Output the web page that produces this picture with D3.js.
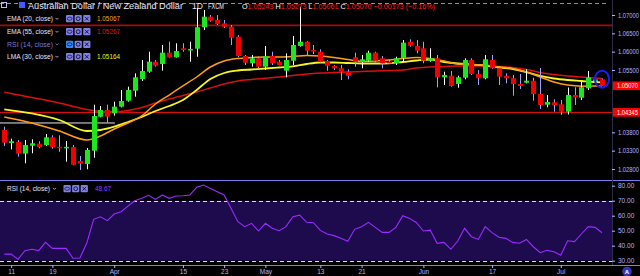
<!DOCTYPE html>
<html>
<head>
<meta charset="utf-8">
<script src="https://cdn.jsdelivr.net/npm/d3@7"></script>
<style>
  html, body { margin: 0; padding: 0; background: #000; }
  svg { display: block; font-family: "Liberation Sans", Arial, sans-serif; }
</style>
</head>
<body>
<div id="chart"></div>
<script>
// Daily candles, AUD/NZD (FXCM)
var opens = [1.03864, 1.03509, 1.03537, 1.03218, 1.03436, 1.03490, 1.03455, 1.03665, 1.03405, 1.03400,
  1.03400, 1.03019, 1.02937, 1.03299, 1.04227, 1.04409, 1.04319, 1.04500, 1.04663, 1.04936,
  1.05255, 1.05454, 1.05726, 1.05664, 1.05972, 1.05846, 1.06092, 1.06045, 1.06081, 1.06665,
  1.06954, 1.06864, 1.06774, 1.06681, 1.06408, 1.05882, 1.05683, 1.05819, 1.05590, 1.05882,
  1.05726, 1.05481, 1.05754, 1.06155, 1.06272, 1.06045, 1.05999, 1.05745, 1.05609, 1.05546,
  1.05454, 1.05846, 1.05718, 1.05754, 1.05972, 1.05819, 1.05726, 1.05683, 1.05819, 1.06272,
  1.06155, 1.06092, 1.05754, 1.05819, 1.05301, 1.05345, 1.05118, 1.05290, 1.05773, 1.05391,
  1.05274, 1.05773, 1.05546, 1.05337, 1.05274, 1.05118, 1.05154, 1.05208, 1.04846, 1.04554,
  1.04619, 1.04565, 1.04363, 1.04818, 1.04745, 1.05001, 1.05210, 1.05243];
var highs = [1.03954, 1.03627, 1.03591, 1.03591, 1.03610, 1.03556, 1.03755, 1.03720, 1.03720, 1.03564,
  1.03455, 1.03155, 1.03373, 1.04554, 1.04518, 1.04554, 1.04636, 1.04955, 1.05045, 1.05410,
  1.05773, 1.05999, 1.05773, 1.06182, 1.06272, 1.06228, 1.06228, 1.06272, 1.07191, 1.07136,
  1.07000, 1.07000, 1.06864, 1.06727, 1.06455, 1.05910, 1.05910, 1.05863, 1.06155, 1.05999,
  1.05773, 1.05955, 1.06427, 1.07226, 1.06285, 1.06182, 1.06065, 1.05773, 1.05636, 1.05636,
  1.05519, 1.05972, 1.05910, 1.06026, 1.05999, 1.05882, 1.05773, 1.05863, 1.06318, 1.06337,
  1.06318, 1.06272, 1.06092, 1.05910, 1.05454, 1.05473, 1.05345, 1.05819, 1.05819, 1.05500,
  1.05910, 1.05910, 1.05574, 1.05410, 1.05364, 1.05391, 1.05519, 1.05290, 1.05555, 1.04818,
  1.04701, 1.04682, 1.05023, 1.05028, 1.05173, 1.05473, 1.05300, 1.05273];
var lows = [1.03428, 1.03338, 1.03136, 1.02956, 1.03229, 1.03365, 1.03428, 1.03354, 1.03272, 1.03000,
  1.02905, 1.02773, 1.02792, 1.03108, 1.04210, 1.04063, 1.04254, 1.04483, 1.04636, 1.04772,
  1.05200, 1.05426, 1.05590, 1.05481, 1.05840, 1.05840, 1.05999, 1.05726, 1.05863, 1.06591,
  1.06817, 1.06727, 1.06645, 1.06182, 1.05846, 1.05636, 1.05590, 1.05546, 1.05500, 1.05636,
  1.05630, 1.05301, 1.05636, 1.06136, 1.05910, 1.05936, 1.05699, 1.05481, 1.05500, 1.05227,
  1.05246, 1.05590, 1.05546, 1.05726, 1.05710, 1.05546, 1.05675, 1.05636, 1.05726, 1.06136,
  1.05955, 1.05683, 1.05726, 1.05028, 1.05091, 1.05045, 1.05017, 1.05246, 1.05364, 1.05091,
  1.05246, 1.05530, 1.05091, 1.05137, 1.04799, 1.04982, 1.05137, 1.04663, 1.04436, 1.04483,
  1.04363, 1.04273, 1.04287, 1.04546, 1.04682, 1.04955, 1.05180, 1.05061];
var closes = [1.03518, 1.03556, 1.03218, 1.03455, 1.03501, 1.03400, 1.03665, 1.03400, 1.03400, 1.03405,
  1.02918, 1.02945, 1.03318, 1.04246, 1.04409, 1.04227, 1.04500, 1.04655, 1.04955, 1.05301,
  1.05473, 1.05726, 1.05617, 1.05972, 1.05846, 1.06018, 1.06045, 1.06073, 1.06665, 1.06954,
  1.06845, 1.06754, 1.06681, 1.06381, 1.05882, 1.05699, 1.05819, 1.05590, 1.05882, 1.05683,
  1.05636, 1.05773, 1.06182, 1.06272, 1.06026, 1.06018, 1.05726, 1.05617, 1.05546, 1.05454,
  1.05337, 1.05726, 1.05792, 1.05972, 1.05754, 1.05683, 1.05683, 1.05819, 1.06245, 1.06163,
  1.06026, 1.05754, 1.05819, 1.05301, 1.05364, 1.05064, 1.05301, 1.05773, 1.05391, 1.05274,
  1.05792, 1.05546, 1.05318, 1.05274, 1.05118, 1.05064, 1.05208, 1.04846, 1.04546, 1.04627,
  1.04546, 1.04363, 1.04818, 1.04750, 1.05028, 1.05301, 1.05243, 1.05070];

// Moving averages, sampled at these candle indices
var maIdx = [0, 4, 8, 12, 14, 16, 18, 20, 22, 24, 26, 28, 30, 32, 34, 36, 38, 40, 42, 44, 46,
  48, 50, 52, 54, 56, 58, 60, 62, 64, 66, 68, 70, 72, 74, 76, 78, 80, 82, 84, 86, 87];
var ema20 = [1.04218, 1.04055, 1.03837, 1.03591, 1.03700, 1.03891, 1.04055, 1.04246, 1.04573, 1.04818,
  1.05064, 1.05309, 1.05582, 1.05745, 1.05814, 1.05841, 1.05855, 1.05855, 1.05868, 1.05896, 1.05882,
  1.05841, 1.05786, 1.05732, 1.05745, 1.05773, 1.05814, 1.05841, 1.05814, 1.05745, 1.05664, 1.05650,
  1.05636, 1.05582, 1.05541, 1.05445, 1.05309, 1.05173, 1.05091, 1.05060, 1.05062, 1.05067];
var ema55 = [1.04892, 1.04750, 1.04600, 1.04423, 1.04368, 1.04363, 1.04396, 1.04477, 1.04600, 1.04709,
  1.04805, 1.04900, 1.05009, 1.05118, 1.05200, 1.05241, 1.05274, 1.05309, 1.05350, 1.05391, 1.05418,
  1.05432, 1.05445, 1.05459, 1.05473, 1.05486, 1.05500, 1.05555, 1.05582, 1.05596, 1.05609, 1.05609,
  1.05609, 1.05596, 1.05568, 1.05514, 1.05432, 1.05377, 1.05337, 1.05309, 1.05282, 1.05267];
var lma30 = [1.04428, 1.04314, 1.04136, 1.03837, 1.03864, 1.03954, 1.04082, 1.04218, 1.04382, 1.04518,
  1.04682, 1.04955, 1.05255, 1.05418, 1.05486, 1.05514, 1.05541, 1.05568, 1.05596, 1.05664, 1.05705,
  1.05705, 1.05691, 1.05677, 1.05677, 1.05683, 1.05718, 1.05759, 1.05786, 1.05718, 1.05677, 1.05650,
  1.05623, 1.05568, 1.05527, 1.05445, 1.05337, 1.05268, 1.05227, 1.05200, 1.05173, 1.05164];

// RSI (14, close), one value per candle
var rsi = [34.4, 34.4, 30.9, 36.7, 37.6, 36.7, 42.2, 38.2, 38.2, 38.2,
  31.6, 31.8, 41.6, 57.6, 59.3, 56.7, 61.1, 62.7, 66.4, 70.0,
  71.6, 73.6, 70.9, 73.8, 71.6, 73.1, 73.3, 73.8, 78.9, 80.4,
  78.2, 76.0, 73.8, 64.9, 56.0, 52.7, 54.9, 49.8, 54.9, 51.6,
  50.0, 52.7, 59.3, 60.4, 55.6, 55.3, 50.2, 47.8, 46.7, 44.9,
  42.9, 50.9, 52.7, 55.6, 52.2, 48.9, 48.9, 52.2, 60.0, 58.2,
  55.3, 49.8, 50.4, 41.6, 42.2, 37.6, 43.1, 51.6, 46.0, 44.2,
  52.7, 48.7, 45.6, 44.9, 42.2, 41.6, 44.2, 39.3, 35.3, 36.9,
  36.0, 33.6, 43.3, 42.7, 47.8, 52.7, 52.2, 48.67];

// Axes
var priceTicks = [1.07, 1.065, 1.06, 1.055, 1.038, 1.033, 1.028];
var rsiTicks = [80, 70, 60, 50, 40, 30];
var dateTickIdx = [1, 7, 16, 26, 32, 38, 46, 52, 61, 71, 81];
var dateLabels = ["11", "19", "Apr", "15", "23", "May", "13", "21", "Jun", "17", "Jul"];

// Drawn levels
var lastPrice = 1.05070;
var supportLevel = 1.04345;
var resistanceLevel = 1.06719;
var alertLevel = 1.07319;
var rangeLevel = 1.04055;

// Legend
var legendNames = ["EMA (20, close)", "EMA (55, close)", "RSI (14, close)", "LMA (30, close)"];
var legendValues = ["1.05067", "1.05267", "", "1.05164"];
var legendColors = ["#ffa21e", "#e01515", "", "#f2f21a"];

const width = 640, height = 276;
const plotRight = 612;
const axisColor = "#b4b4ff";
const sepColor = "#7c7cf0";

var svg = d3.select("#chart").append("svg")
  .attr("width", width)
  .attr("height", height);

svg.append("rect").attr("width", width).attr("height", height).attr("fill", "#000");

var x = d3.scaleLinear().domain([0, 87]).range([4.3, 602]);
var y = d3.scaleLinear().domain([1.025, 1.07409]).range([180, 0]);
var yr = d3.scaleLinear().domain([30, 70]).range([260.7, 200.7]);

svg.append("defs").append("clipPath").attr("id", "pclip")
  .append("rect").attr("x", 0).attr("y", 0).attr("width", plotRight).attr("height", 180);

var pg = svg.append("g").attr("clip-path", "url(#pclip)");

// alert line (dashed blue)
pg.append("line")
  .attr("x1", 0).attr("x2", 609)
  .attr("y1", Math.round(y(alertLevel)) + 0.5).attr("y2", Math.round(y(alertLevel)) + 0.5)
  .attr("stroke", "#2ab0f5").attr("stroke-width", 1.2).attr("stroke-dasharray", "4,3");

// horizontal levels
pg.append("line")
  .attr("x1", 0).attr("x2", plotRight)
  .attr("y1", y(resistanceLevel)).attr("y2", y(resistanceLevel))
  .attr("stroke", "#a30d0d").attr("stroke-width", 1.8);
pg.append("line")
  .attr("x1", 0).attr("x2", plotRight)
  .attr("y1", y(supportLevel)).attr("y2", y(supportLevel))
  .attr("stroke", "#ff1010").attr("stroke-width", 1);
pg.append("line")
  .attr("x1", 0).attr("x2", x(16.1))
  .attr("y1", y(rangeLevel)).attr("y2", y(rangeLevel))
  .attr("stroke", "#e8e8f0").attr("stroke-width", 1);

// moving averages
var maLine = d3.line()
  .x(function (d) { return x(d.i); })
  .y(function (d) { return y(d.v); })
  .curve(d3.curveMonotoneX);

function maData(vals) {
  return maIdx.map(function (idx, k) { return {i: idx, v: vals[k]}; });
}

pg.append("path").datum(maData(ema55)).attr("d", maLine)
  .attr("fill", "none").attr("stroke", "#d81010").attr("stroke-width", 1.5);
pg.append("path").datum(maData(lma30)).attr("d", maLine)
  .attr("fill", "none").attr("stroke", "#f5f528").attr("stroke-width", 1.8);
pg.append("path").datum(maData(ema20)).attr("d", maLine)
  .attr("fill", "none").attr("stroke", "#ff9c1a").attr("stroke-width", 1.5);

// candles
var candles = d3.range(opens.length).map(function (i) {
  return {i: i, o: opens[i], h: highs[i], l: lows[i], c: closes[i]};
});

pg.selectAll(".wick")
  .data(candles)
  .enter().append("line")
  .attr("class", "wick")
  .attr("x1", function (d) { return Math.round(x(d.i)) + 0.5; })
  .attr("x2", function (d) { return Math.round(x(d.i)) + 0.5; })
  .attr("y1", function (d) { return y(d.h); })
  .attr("y2", function (d) { return y(d.l); })
  .attr("stroke", function (d) { return d.c >= d.o ? "#ffffff" : "#a0a0ff"; })
  .attr("stroke-width", 1);

pg.selectAll(".body")
  .data(candles)
  .enter().append("rect")
  .attr("class", "body")
  .attr("x", function (d) { return Math.round(x(d.i)) - 2; })
  .attr("width", 5)
  .attr("y", function (d) { return y(Math.max(d.o, d.c)); })
  .attr("height", function (d) { return Math.max(1.5, Math.abs(y(d.o) - y(d.c))); })
  .attr("fill", function (d) { return d.c >= d.o ? "#1ee61e" : "#f20000"; });

// circle annotation on the last bar
pg.append("ellipse")
  .attr("cx", x(87)).attr("cy", y(1.0525))
  .attr("rx", 7).attr("ry", 8.5)
  .attr("fill", "none").attr("stroke", "#1c1cff").attr("stroke-width", 2);

// RSI pane
svg.append("rect")
  .attr("x", 0).attr("width", plotRight)
  .attr("y", yr(70)).attr("height", yr(30) - yr(70))
  .attr("fill", "#1d0b4e");
[70, 30].forEach(function (v) {
  svg.append("line")
    .attr("x1", 0).attr("x2", plotRight)
    .attr("y1", Math.round(yr(v)) + 0.5).attr("y2", Math.round(yr(v)) + 0.5)
    .attr("stroke", "#d8d8ff").attr("stroke-width", 1).attr("stroke-dasharray", "4,3");
});
svg.append("path")
  .datum(rsi)
  .attr("d", d3.line().x(function (d, i) { return x(i); }).y(function (d) { return yr(d); }))
  .attr("fill", "none").attr("stroke", "#9a2cff").attr("stroke-width", 1.1);

// separators / frame
svg.append("line").attr("x1", 0).attr("x2", width).attr("y1", 180.5).attr("y2", 180.5)
  .attr("stroke", sepColor).attr("stroke-width", 1);
svg.append("line").attr("x1", 0).attr("x2", width).attr("y1", 265.5).attr("y2", 265.5)
  .attr("stroke", sepColor).attr("stroke-width", 1);
svg.append("line").attr("x1", plotRight + 0.5).attr("x2", plotRight + 0.5).attr("y1", 0).attr("y2", 265)
  .attr("stroke", "#2c2c44").attr("stroke-width", 1);

// price axis
var pAxis = svg.append("g")
  .attr("transform", "translate(" + plotRight + ",0)")
  .call(d3.axisRight(y).tickValues(priceTicks).tickFormat(d3.format(".5f")).tickSize(3).tickPadding(3));
pAxis.select(".domain").remove();
pAxis.selectAll("line").attr("stroke", axisColor);
pAxis.selectAll("text").attr("fill", axisColor).attr("font-size", 6.5).attr("textLength", 21)
  .attr("lengthAdjust", "spacingAndGlyphs").attr("font-family", "Liberation Sans, Arial, sans-serif");

// RSI axis
var rAxis = svg.append("g")
  .attr("transform", "translate(" + plotRight + ",0)")
  .call(d3.axisRight(yr).tickValues(rsiTicks).tickFormat(d3.format(".2f")).tickSize(3).tickPadding(3));
rAxis.select(".domain").remove();
rAxis.selectAll("line").attr("stroke", axisColor);
rAxis.selectAll("text").attr("fill", axisColor).attr("font-size", 6.5)
  .attr("font-family", "Liberation Sans, Arial, sans-serif");

// date axis
var dAxis = svg.append("g")
  .attr("transform", "translate(0,265)")
  .call(d3.axisBottom(x).tickValues(dateTickIdx)
    .tickFormat(function (d, i) { return dateLabels[i]; })
    .tickSize(3).tickSizeOuter(0).tickPadding(1));
dAxis.select(".domain").remove();
dAxis.selectAll("line").attr("stroke", axisColor);
dAxis.selectAll("text").attr("fill", axisColor).attr("font-size", 6.5)
  .attr("font-family", "Liberation Sans, Arial, sans-serif");

// price tags on the axis
function priceTag(level, label) {
  var cy = y(level);
  svg.append("rect").attr("x", plotRight + 1).attr("y", cy - 4.3).attr("width", width - plotRight - 1).attr("height", 8.6)
    .attr("fill", "#ff0000");
  svg.append("text").attr("x", plotRight + 5).attr("y", cy + 2.4)
    .attr("fill", "#ffffff").attr("font-size", 6.5).attr("textLength", 21).attr("lengthAdjust", "spacingAndGlyphs")
    .text(label);
}
priceTag(lastPrice, d3.format(".5f")(lastPrice));
priceTag(supportLevel, d3.format(".5f")(supportLevel));

// auto-scale button
svg.append("circle").attr("cx", 627).attr("cy", 271.5).attr("r", 4.8).attr("fill", "#3434b4");
svg.append("text").attr("x", 627).attr("y", 273.8).attr("text-anchor", "middle")
  .attr("fill", "#ffffff").attr("font-size", 6).attr("font-weight", "bold").text("A");

// title row
svg.append("rect").attr("x", 1.5).attr("y", 2.5).attr("width", 5).attr("height", 5)
  .attr("fill", "none").attr("stroke", "#b8b8ff").attr("stroke-width", 1);
svg.append("rect").attr("x", 19).attr("y", 2).attr("width", 6).attr("height", 6).attr("fill", "#3f5cff");
svg.append("text").attr("x", 28).attr("y", 9).attr("fill", "#e8e8ff").attr("font-size", 8.5)
  .attr("textLength", 155).attr("lengthAdjust", "spacingAndGlyphs")
  .text("Australian Dollar / New Zealand Dollar");
svg.append("text").attr("x", 192).attr("y", 9).attr("fill", "#e8e8ff").attr("font-size", 8.5).text("1D");
svg.append("text").attr("x", 208).attr("y", 9).attr("fill", "#e8e8ff").attr("font-size", 8.5)
  .attr("textLength", 16).attr("lengthAdjust", "spacingAndGlyphs").text("FXCM");

var ohlc = svg.append("text").attr("x", 242).attr("y", 9).attr("font-size", 7.2)
  .attr("textLength", 193).attr("lengthAdjust", "spacingAndGlyphs");
[["O", "1.05243 "], ["H", "1.05273 "], ["L", "1.05061 "], ["C", "1.05070 "], ["", "\u22120.00173 (\u22120.16%)"]]
  .forEach(function (p) {
    if (p[0]) ohlc.append("tspan").attr("fill", "#ffffff").text(p[0]);
    ohlc.append("tspan").attr("fill", "#ff2020").text(p[1]);
  });

// legend rows
function iconGroup(g, x0, cy, firstColor) {
  [0, 1, 2].forEach(function (k) {
    var bx = x0 + k * 8.6;
    g.append("rect").attr("x", bx).attr("y", cy - 3.6).attr("width", 7.2).attr("height", 7.2).attr("rx", 1)
      .attr("fill", k === 0 && firstColor ? firstColor : "#8080e6");
    if (k === 0) {
      g.append("ellipse").attr("cx", bx + 3.6).attr("cy", cy).attr("rx", 2.4).attr("ry", 1.6)
        .attr("fill", "none").attr("stroke", "#161640").attr("stroke-width", 0.8);
    } else if (k === 1) {
      g.append("circle").attr("cx", bx + 3.6).attr("cy", cy).attr("r", 1.9)
        .attr("fill", "none").attr("stroke", "#161640").attr("stroke-width", 1);
    } else {
      g.append("path").attr("d", "M" + (bx + 1.8) + "," + (cy - 1.8) + "l3.6,3.6M" + (bx + 5.4) + "," + (cy - 1.8) + "l-3.6,3.6")
        .attr("stroke", "#161640").attr("stroke-width", 1);
    }
  });
}

var legendY = [18.7, 31.7, 44.3, 56.7];
var lg = svg.append("g");
legendNames.forEach(function (name, k) {
  var cy = legendY[k];
  var dim = legendValues[k] === "";
  lg.append("text").attr("x", 7).attr("y", cy + 2.3).attr("font-size", 6.8)
    .attr("fill", dim ? "#7b7bd0" : "#e4e4ff")
    .attr("textLength", 46).attr("lengthAdjust", "spacingAndGlyphs")
    .text(name);
  lg.append("path").attr("d", "M55.5," + (cy - 0.8) + "l1.5,1.5l1.5,-1.5")
    .attr("fill", "none").attr("stroke", dim ? "#7b7bd0" : "#c8c8ff").attr("stroke-width", 0.8);
  iconGroup(lg, 66, cy, dim ? "#2f8cff" : null);
  if (!dim) {
    lg.append("text").attr("x", 97).attr("y", cy + 2.3).attr("font-size", 6.8)
      .attr("fill", legendColors[k]).attr("textLength", 23).attr("lengthAdjust", "spacingAndGlyphs")
      .text(legendValues[k]);
  }
});

// RSI header
var rh = svg.append("g");
rh.append("text").attr("x", 7).attr("y", 191).attr("font-size", 6.8).attr("fill", "#e4e4ff")
  .attr("textLength", 43).attr("lengthAdjust", "spacingAndGlyphs").text("RSI (14, close)");
rh.append("path").attr("d", "M53,187.9l1.5,1.5l1.5,-1.5")
  .attr("fill", "none").attr("stroke", "#c8c8ff").attr("stroke-width", 0.8);
iconGroup(rh, 63.5, 188.7, null);
rh.append("text").attr("x", 95).attr("y", 191).attr("font-size", 6.8).attr("fill", "#9a3cff")
  .attr("textLength", 16).attr("lengthAdjust", "spacingAndGlyphs").text(d3.format(".2f")(rsi[rsi.length - 1]));
</script>
</body>
</html>
